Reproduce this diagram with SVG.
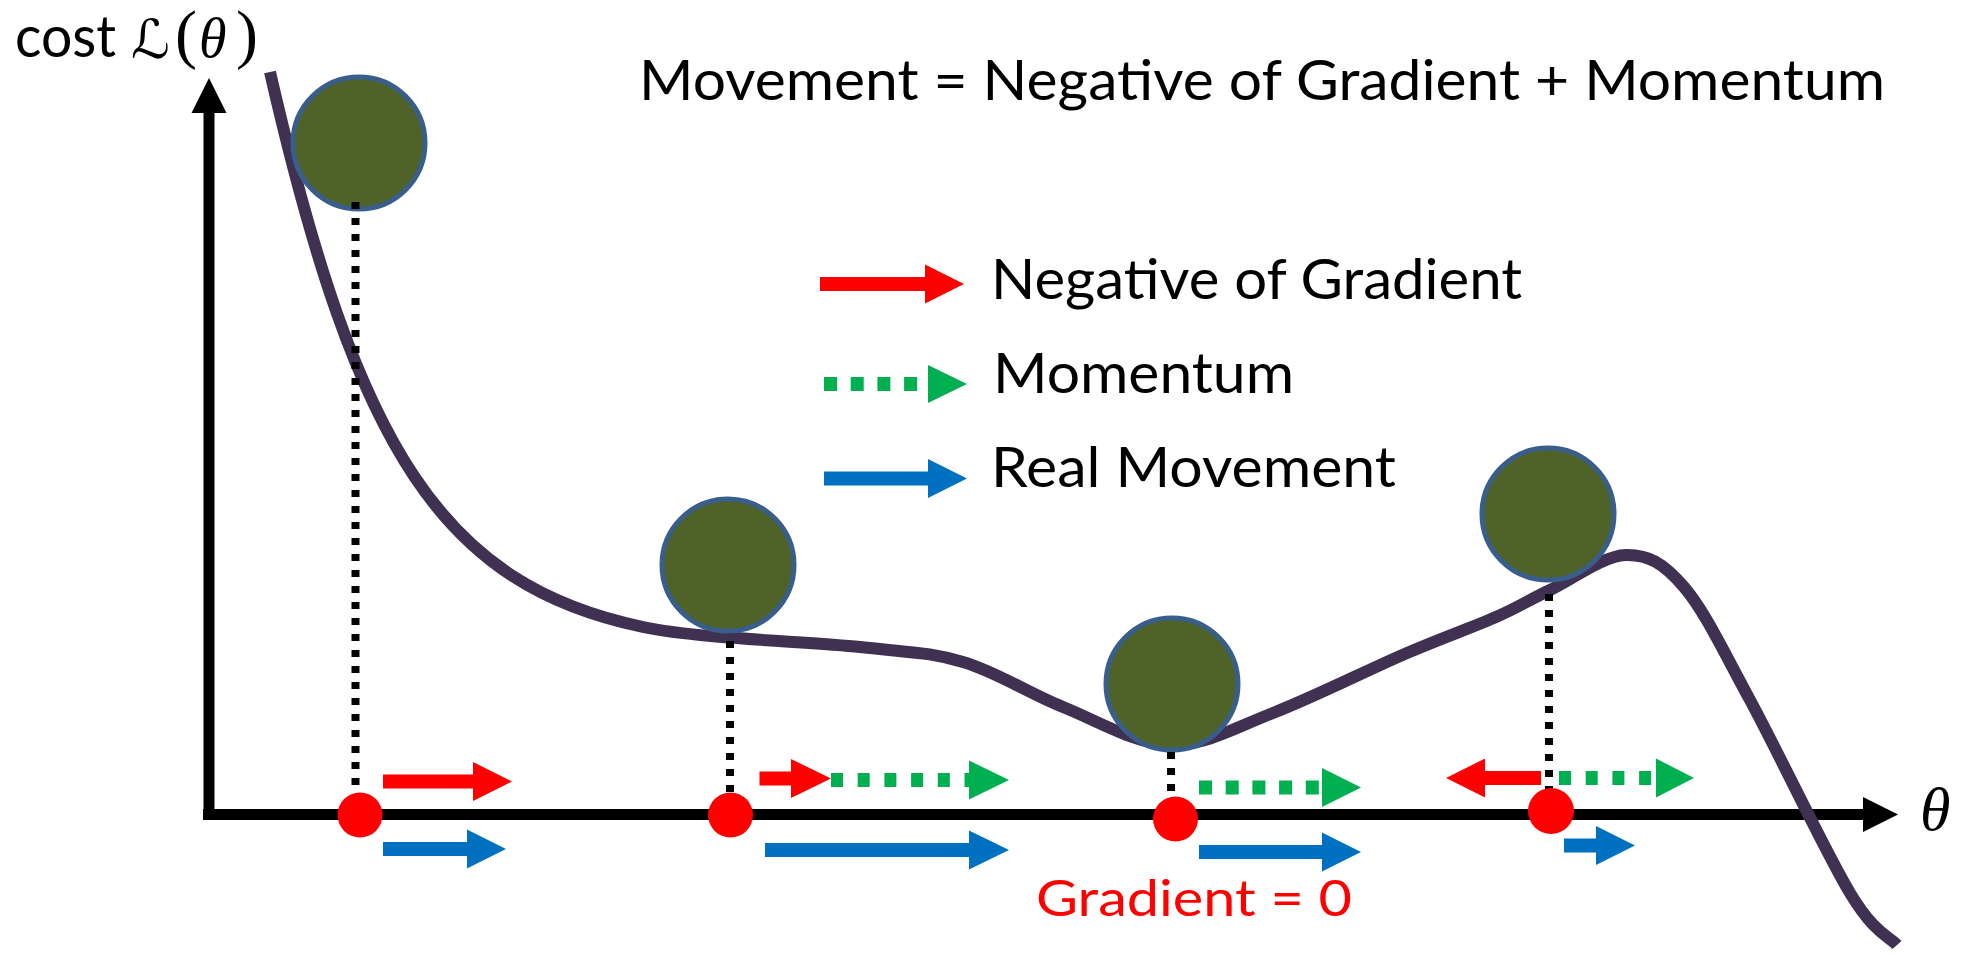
<svg xmlns="http://www.w3.org/2000/svg" width="1970" height="957" viewBox="0 0 1970 957">
<style>
.txt{font-family:Lato,"Open Sans","Liberation Sans",sans-serif;fill:#000}
.red{fill:#FF0000}
.blue{fill:#0070C0}
.green{fill:#00B050}
.gdash{stroke:#00B050;stroke-width:14;stroke-dasharray:13 13.7;fill:none}
.dot{stroke:#000;stroke-width:8;stroke-dasharray:7 9;fill:none}
.ball{fill:#4F6228;stroke:#3A5E8C;stroke-width:5}
.axis{stroke:#000;stroke-width:11;fill:none}
</style>
<rect width="1970" height="957" fill="#fff"/>

<g id="axes">
  <line class="axis" x1="209" y1="820" x2="209" y2="110"/>
  <polygon points="191.5,113 209,78 226.5,113" fill="#000"/>
  <line class="axis" x1="203" y1="814.5" x2="1866" y2="814.5"/>
  <polygon points="1863,797 1898,814.5 1863,832" fill="#000"/>
</g>

<g id="axis-labels">
  <text class="txt" x="15" y="57" font-size="58" textLength="101" lengthAdjust="spacingAndGlyphs">cost</text>
  <text x="131" y="58" font-family="'DejaVu Serif','DejaVu Sans',serif" font-style="italic" font-size="54">ℒ</text>
  <text x="175" y="56" font-family="'Liberation Serif',serif" font-size="66">(</text>
  <text x="199" y="57" font-family="'Liberation Serif',serif" font-style="italic" font-size="56">θ</text>
  <text x="236" y="56" font-family="'Liberation Serif',serif" font-size="66">)</text>
  <text x="1920" y="830" font-family="'Liberation Serif',serif" font-style="italic" font-size="62">θ</text>
</g>

<g id="title">
  <text class="txt" x="639" y="100" font-size="56" textLength="1246" lengthAdjust="spacingAndGlyphs">Movement = Negative of Gradient + Momentum</text>
</g>

<g id="legend">
  <path class="red" d="M820,277 H925 V264.5 L964,284 L925,303.5 V291 H820 Z"/>
  <text class="txt" x="991" y="299" font-size="56" textLength="531" lengthAdjust="spacingAndGlyphs">Negative of Gradient</text>
  <line class="gdash" x1="824" y1="384" x2="928" y2="384"/>
  <polygon class="green" points="928,365 967,384 928,403"/>
  <text class="txt" x="993" y="393" font-size="56" textLength="301" lengthAdjust="spacingAndGlyphs">Momentum</text>
  <path class="blue" d="M824,471.5 H928 V459 L967,478.5 L928,498 V485.5 H824 Z"/>
  <text class="txt" x="991" y="487" font-size="56" textLength="405" lengthAdjust="spacingAndGlyphs">Real Movement</text>
</g>

<g id="cost-curve">
  <path d="M270,72 C357,452 443,585 643,627 C700,639 806.7,641.2 860,647 C913.3,652.8 929.2,652 963,662 C996.8,672 1028.5,693.2 1063,707 C1097.5,720.8 1135,744 1170,745 C1205,746 1233.5,728.3 1273,713 C1312.5,697.7 1369.8,669 1407,653 C1444.2,637 1472.2,627.5 1496,617 C1519.8,606.5 1528.3,600.3 1550,590 C1571.7,579.7 1603.7,555.5 1626,555 C1648.3,554.5 1663.3,562.8 1684,587 C1704.7,611.2 1722.3,649 1750,700 C1777.7,751 1825.5,852.2 1850,893 C1874.5,933.8 1889.2,936.3 1897,945" fill="none" stroke="#403152" stroke-width="12"/>
</g>

<g id="ball-1"><circle class="ball" cx="359" cy="143" r="66"/></g>
<g id="ball-2"><circle class="ball" cx="728" cy="565" r="66"/></g>
<g id="ball-3"><circle class="ball" cx="1172" cy="684" r="66"/></g>
<g id="ball-4"><circle class="ball" cx="1548" cy="514" r="66"/></g>

<g id="drop-lines">
  <line class="dot" x1="355.5" y1="202" x2="355.5" y2="790"/>
  <line class="dot" x1="730" y1="641" x2="730" y2="795"/>
  <line class="dot" x1="1171" y1="752" x2="1171" y2="799"/>
  <line class="dot" x1="1549" y1="594" x2="1549" y2="791"/>
</g>

<g id="points">
  <circle class="red" cx="360" cy="815" r="22.5"/>
  <circle class="red" cx="730.5" cy="815" r="22.5"/>
  <circle class="red" cx="1175.5" cy="819" r="22.5"/>
  <circle class="red" cx="1551" cy="811" r="23"/>
</g>

<g id="step-1">
  <path class="red" d="M383,774.5 H473 V762 L512,781.5 L473,801 V788.5 H383 Z"/>
  <path class="blue" d="M383,842 H467 V829.5 L506,849 L467,868.5 V856 H383 Z"/>
</g>
<g id="step-2">
  <path class="red" d="M759.5,771.5 H791 V759 L831,778.5 L791,798 V785.5 H759.5 Z"/>
  <line class="gdash" x1="831" y1="780" x2="969" y2="780" style="stroke-dasharray:12 14.7"/>
  <polygon class="green" points="969,760.5 1009,780 969,799.5"/>
  <path class="blue" d="M765,843 H969 V830.5 L1009,850 L969,869.5 V857 H765 Z"/>
</g>
<g id="step-3">
  <line class="gdash" x1="1199" y1="787.5" x2="1322" y2="787.5"/>
  <polygon class="green" points="1322,768 1361,787.5 1322,807"/>
  <path class="blue" d="M1199,845 H1322 V832.5 L1361,852 L1322,871.5 V859 H1199 Z"/>
  <text x="1036" y="916" font-family="Lato,'Open Sans','Liberation Sans',sans-serif" font-size="50" fill="#FF0000" textLength="316" lengthAdjust="spacingAndGlyphs">Gradient = 0</text>
</g>
<g id="step-4">
  <path class="red" d="M1541,771 H1485 V758.5 L1446,778 L1485,797.5 V785 H1541 Z"/>
  <line class="gdash" x1="1559" y1="778" x2="1656" y2="778" style="stroke-dasharray:12 14.7"/>
  <polygon class="green" points="1656,758.5 1694,778 1656,797.5"/>
  <path class="blue" d="M1564,838.5 H1596 V826 L1635,845.5 L1596,865 V852.5 H1564 Z"/>
</g>
</svg>
